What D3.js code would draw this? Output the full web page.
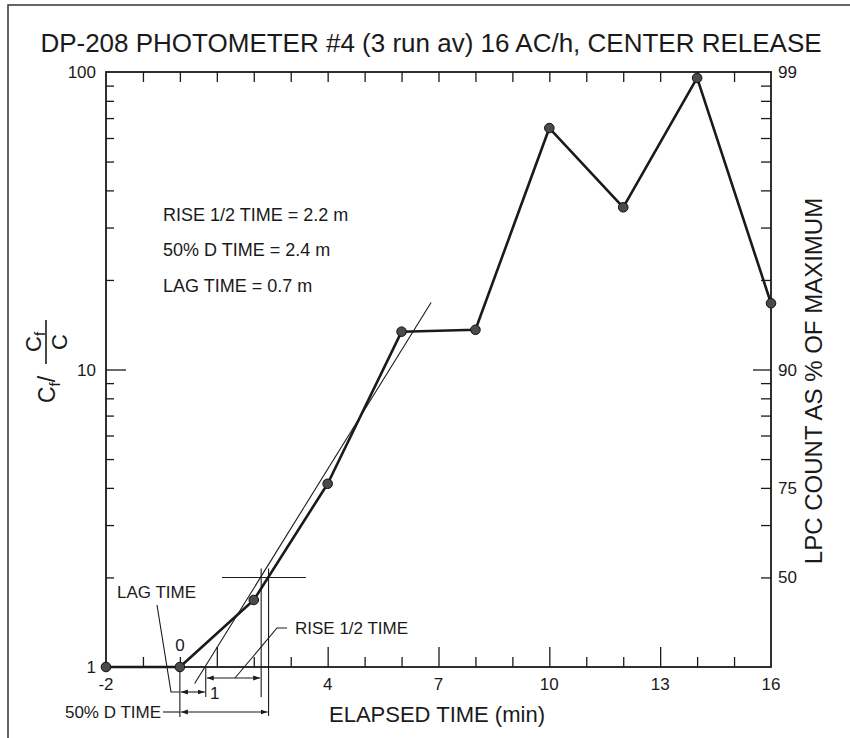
<!DOCTYPE html>
<html>
<head>
<meta charset="utf-8">
<script src="https://cdn.jsdelivr.net/npm/d3@7"></script>
<style>
  body { margin: 0; background: #fff; }
  text { font-family: "Liberation Sans", Arial, Helvetica, sans-serif; fill: #1a1a1a; }
</style>
</head>
<body>
<svg id="chart" width="850" height="738"></svg>
<script>
// Photometer readings: elapsed time (min) and concentration ratio Cf/C
const times  = [-2, 0, 2, 4, 6, 8, 10, 12, 14, 16];
const ratios = [1, 1, 1.68, 4.13, 13.4, 13.6, 64.8, 35.1, 95.5, 16.7];

// Axis ticks and labels
const xTickLabels   = [-2, 4, 7, 10, 13, 16];
const xMajorTicks   = [1, 4, 7, 10, 13];
const xMinorTicks   = [-1, 0, 2, 3, 5, 6, 8, 9, 11, 12, 14, 15];
const yTickLabels   = [1, 10, 100];
const yMinorTicks   = [2, 3, 4, 5, 6, 7, 8, 9, 20, 30, 40, 50, 60, 70, 80, 90];
const rightTickLabels = [99, 90, 75, 50];   // LPC count, % of maximum

// Derived times (min)
const riseHalfTime = 2.2;
const dHalfTime    = 2.4;
const lagTime      = 0.7;
const zeroTime     = 0;
const halfLevel    = 2;                         // 50% level on the ratio scale
const fitLine      = [[0.4, 0.88], [6.8, 16.8]]; // straight-line fit of the rise
const crossSpan    = [1.14, 3.41];

const svg = d3.select("#chart");
const x = d3.scaleLinear().domain([-2, 16]).range([106, 771]);
const y = d3.scaleLog().domain([1, 100]).range([667, 72]);
// percent of maximum -> equivalent concentration ratio
const pctToRatio = p => 100 / (100 - p);
const x0 = x.range()[0], x1 = x.range()[1], yB = y.range()[0], yT = y.range()[1];

// page border
svg.append("path").attr("d", "M8,738 V5 H850")
  .attr("fill", "none").attr("stroke", "#333").attr("stroke-width", 1.5);

// title
svg.append("text").attr("x", 431).attr("y", 52).attr("text-anchor", "middle")
  .attr("font-size", 26).text("DP-208 PHOTOMETER #4 (3 run av) 16 AC/h, CENTER RELEASE");

function styleAxis(g) {
  g.select(".domain").remove();
  g.selectAll("line").attr("stroke", "#1a1a1a").attr("stroke-width", 1.3);
}

// inward ticks
svg.append("g").attr("transform", `translate(0,${yB})`)
  .call(d3.axisBottom(x).tickValues(xMinorTicks).tickSize(-10).tickFormat(""))
  .call(styleAxis);
svg.append("g").attr("transform", `translate(0,${yB})`)
  .call(d3.axisBottom(x).tickValues(xMajorTicks).tickSize(-20).tickFormat(""))
  .call(styleAxis);
svg.append("g").attr("transform", `translate(0,${yT})`)
  .call(d3.axisTop(x).tickValues(d3.range(-1, 16)).tickSize(-10).tickFormat(""))
  .call(styleAxis);
svg.append("g").attr("transform", `translate(${x0},0)`)
  .call(d3.axisLeft(y).tickValues(yMinorTicks).tickSize(-8).tickFormat(""))
  .call(styleAxis);
svg.append("g").attr("transform", `translate(${x0},0)`)
  .call(d3.axisLeft(y).tickValues([10]).tickSize(-20).tickFormat(""))
  .call(styleAxis);
svg.append("g").attr("transform", `translate(${x1},0)`)
  .call(d3.axisRight(y).tickValues(yMinorTicks).tickSize(-10).tickFormat(""))
  .call(styleAxis);
svg.append("g").attr("transform", `translate(${x1},0)`)
  .call(d3.axisRight(y).tickValues([10]).tickSize(-18).tickFormat(""))
  .call(styleAxis);

// tick labels
const lab = svg.append("g").attr("font-size", 17);
lab.selectAll(".xl").data(xTickLabels).join("text")
  .attr("x", d => x(d)).attr("y", yB + 23).attr("text-anchor", "middle").text(d => d);
lab.selectAll(".yl").data(yTickLabels).join("text")
  .attr("x", x0 - 10).attr("y", d => y(d) + 6).attr("text-anchor", "end").text(d => d);
lab.selectAll(".rl").data(rightTickLabels).join("text")
  .attr("x", x1 + 7).attr("y", d => y(pctToRatio(d)) + 6).text(d => d);

// frame
svg.append("rect").attr("x", x0).attr("y", yT).attr("width", x1 - x0).attr("height", yB - yT)
  .attr("fill", "none").attr("stroke", "#1a1a1a").attr("stroke-width", 1.8);

// axis titles
svg.append("text").attr("x", 437).attr("y", 722).attr("text-anchor", "middle")
  .attr("font-size", 22).text("ELAPSED TIME (min)");
svg.append("text").attr("transform", "translate(822,381) rotate(-90)")
  .attr("text-anchor", "middle").attr("font-size", 24).text("LPC COUNT AS % OF MAXIMUM");

// left title: Cf / (Cf over C)
const lt = svg.append("g").attr("transform", "translate(46,370) rotate(-90)");
const t1 = lt.append("text").attr("x", -33).attr("y", 9).attr("font-size", 23);
t1.append("tspan").text("C");
t1.append("tspan").attr("font-size", 15).attr("dy", 5).text("f");
t1.append("tspan").attr("dy", -5).text("/");
lt.append("line").attr("x1", 6).attr("x2", 50).attr("y1", 0).attr("y2", 0)
  .attr("stroke", "#1a1a1a").attr("stroke-width", 1.6);
const t2 = lt.append("text").attr("x", 18).attr("y", -5).attr("font-size", 22);
t2.append("tspan").text("C");
t2.append("tspan").attr("font-size", 15).attr("dy", 4).text("f");
lt.append("text").attr("x", 20).attr("y", 21).attr("font-size", 22).text("C");

// derived-time text
const info = svg.append("g").attr("font-size", 18);
info.append("text").attr("x", 163).attr("y", 221).text(`RISE 1/2 TIME = ${riseHalfTime} m`);
info.append("text").attr("x", 163).attr("y", 256).text(`50% D TIME = ${dHalfTime} m`);
info.append("text").attr("x", 163).attr("y", 292).text(`LAG TIME = ${lagTime} m`);

// construction lines
const thin = svg.append("g").attr("stroke", "#1a1a1a").attr("stroke-width", 1.1).attr("fill", "none");
thin.append("line")
  .attr("x1", x(fitLine[0][0])).attr("y1", y(fitLine[0][1]))
  .attr("x2", x(fitLine[1][0])).attr("y2", y(fitLine[1][1]));
thin.append("line")
  .attr("x1", x(crossSpan[0])).attr("x2", x(crossSpan[1]))
  .attr("y1", y(halfLevel)).attr("y2", y(halfLevel));
thin.append("line").attr("x1", x(riseHalfTime)).attr("x2", x(riseHalfTime))
  .attr("y1", y(halfLevel) - 9).attr("y2", yB + 30);
thin.append("line").attr("x1", x(dHalfTime)).attr("x2", x(dHalfTime))
  .attr("y1", y(halfLevel) - 9).attr("y2", yB + 49);
thin.append("line").attr("x1", x(lagTime)).attr("x2", x(lagTime))
  .attr("y1", yB).attr("y2", yB + 30);
thin.append("line").attr("x1", x(zeroTime)).attr("x2", x(zeroTime))
  .attr("y1", yB).attr("y2", yB + 50);

// dimension arrows
svg.append("defs").append("marker").attr("id", "ah")
  .attr("viewBox", "0 0 10 10").attr("refX", 10).attr("refY", 5)
  .attr("markerWidth", 7).attr("markerHeight", 7).attr("markerUnits", "userSpaceOnUse")
  .attr("orient", "auto-start-reverse")
  .append("path").attr("d", "M0,1.5 L10,5 L0,8.5 Z").attr("fill", "#1a1a1a");
function dim(t0, t1, yy) {
  svg.append("line").attr("x1", x(t0) + 1).attr("x2", x(t1) - 1).attr("y1", yy).attr("y2", yy)
    .attr("stroke", "#1a1a1a").attr("stroke-width", 1.1)
    .attr("marker-start", "url(#ah)").attr("marker-end", "url(#ah)");
}
dim(zeroTime, lagTime, yB + 25);
dim(lagTime, riseHalfTime, yB + 11);
dim(zeroTime, dHalfTime, yB + 45);

// annotation labels with leaders
const ann = svg.append("g").attr("font-size", 17);
ann.append("text").attr("x", 117).attr("y", 598).text("LAG TIME");
ann.append("text").attr("x", x(0)).attr("y", yB - 16).attr("text-anchor", "middle").text("0");
ann.append("text").attr("x", x(1) - 2).attr("y", yB + 32).attr("text-anchor", "middle").text("1");
ann.append("text").attr("x", 295).attr("y", 634).text("RISE 1/2 TIME");
ann.append("text").attr("x", 161).attr("y", yB + 51).attr("text-anchor", "end").text("50% D TIME");
const lead = svg.append("g").attr("stroke", "#1a1a1a").attr("stroke-width", 1.1).attr("fill", "none");
lead.append("polyline").attr("points", `157,605 171,${yB + 25} ${x(zeroTime)},${yB + 25}`);
lead.append("polyline").attr("points", `287,628 277,628 235,${yB + 11}`);
lead.append("line").attr("x1", 163).attr("x2", x(zeroTime)).attr("y1", yB + 45).attr("y2", yB + 45);

// data series
const data = times.map((t, i) => ({ t, v: ratios[i] }));
svg.append("path").datum(data)
  .attr("d", d3.line().x(d => x(d.t)).y(d => y(d.v)))
  .attr("fill", "none").attr("stroke", "#1a1a1a").attr("stroke-width", 2.6)
  .attr("stroke-linejoin", "round");
svg.selectAll(".pt").data(data).join("circle")
  .attr("cx", d => x(d.t)).attr("cy", d => y(d.v)).attr("r", 4.8)
  .attr("fill", "#4a4a4a").attr("stroke", "#111").attr("stroke-width", 1);
</script>
</body>
</html>
